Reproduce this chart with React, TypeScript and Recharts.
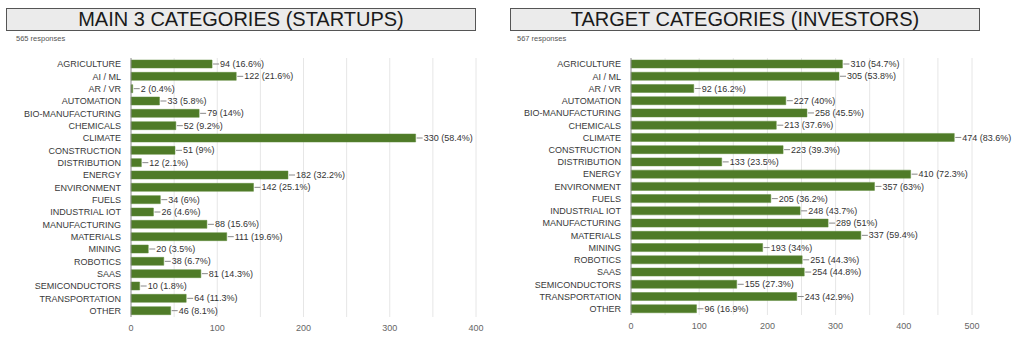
import React from "react";
import { BarChart, Bar, XAxis, YAxis, CartesianGrid, LabelList } from "recharts";

const categories = [
  "AGRICULTURE", "AI / ML", "AR / VR", "AUTOMATION", "BIO-MANUFACTURING", "CHEMICALS",
  "CLIMATE", "CONSTRUCTION", "DISTRIBUTION", "ENERGY", "ENVIRONMENT", "FUELS",
  "INDUSTRIAL IOT", "MANUFACTURING", "MATERIALS", "MINING", "ROBOTICS", "SAAS",
  "SEMICONDUCTORS", "TRANSPORTATION", "OTHER",
];

const startupCounts = [94, 122, 2, 33, 79, 52, 330, 51, 12, 182, 142, 34, 26, 88, 111, 20, 38, 81, 10, 64, 46];
const startupPct = ["16.6", "21.6", "0.4", "5.8", "14", "9.2", "58.4", "9", "2.1", "32.2", "25.1", "6", "4.6", "15.6", "19.6", "3.5", "6.7", "14.3", "1.8", "11.3", "8.1"];

const investorCounts = [310, 305, 92, 227, 258, 213, 474, 223, 133, 410, 357, 205, 248, 289, 337, 193, 251, 254, 155, 243, 96];
const investorPct = ["54.7", "53.8", "16.2", "40", "45.5", "37.6", "83.6", "39.3", "23.5", "72.3", "63", "36.2", "43.7", "51", "59.4", "34", "44.3", "44.8", "27.3", "42.9", "16.9"];

const startupTicks = [0, 100, 200, 300, 400];
const startupGrid = [50, 100, 150, 200, 250, 300, 350, 400];
const investorTicks = [0, 100, 200, 300, 400, 500];
const investorGrid = [50, 100, 150, 200, 250, 300, 350, 400, 450, 500];

const FONT = '"Liberation Sans", Arial, sans-serif';
const GREEN = "#4f7b28";

const ValueLabel = (props: any) => {
  const { x, y, width, height, value } = props;
  const ex = x + width;
  const cy = y + height / 2;
  return (
    <g>
      <line x1={ex + 1} y1={cy} x2={ex + 7} y2={cy} stroke="#888" strokeWidth={1} />
      <text x={ex + 8} y={cy} dy="0.35em" fontSize={9} fill="#333" fontFamily={FONT}>
        {value}
      </text>
    </g>
  );
};

function Panel(props: {
  left: number;
  width: number;
  axisWidth: number;
  respLeft: number;
  title: string;
  responses: string;
  counts: number[];
  pct: string[];
  ticks: number[];
  grid: number[];
  max: number;
  marginRight: number;
  marginBottom: number;
}) {
  const data = categories.map((c, i) => ({
    name: c,
    value: props.counts[i],
    label: `${props.counts[i]} (${props.pct[i]}%)`,
  }));
  return (
    <div style={{ position: "absolute", left: props.left, top: 0, width: props.width, height: 360 }}>
      <div
        style={{
          position: "absolute",
          left: 6,
          top: 8,
          width: 468,
          height: 21,
          background: "#ebebeb",
          border: "1px solid #555",
          fontFamily: FONT,
          fontSize: 20,
          lineHeight: "21px",
          textAlign: "center",
          color: "#1a1a1a",
        }}
      >
        {props.title}
      </div>
      <div
        style={{
          position: "absolute",
          left: props.respLeft,
          top: 34,
          fontFamily: FONT,
          fontSize: 7.5,
          color: "#555",
        }}
      >
        {props.responses}
      </div>
      <div style={{ position: "absolute", left: 0, top: 0 }}>
        <BarChart
          width={props.width}
          height={360}
          data={data}
          layout="vertical"
          margin={{ top: 58, right: props.marginRight, left: 0, bottom: props.marginBottom }}
          barSize={8}
        >
          <CartesianGrid horizontal={false} stroke="#e6e6e6" verticalValues={props.grid} />
          <XAxis
            type="number"
            domain={[0, props.max]}
            ticks={props.ticks}
            axisLine={false}
            tickLine={false}
            height={20}
            tick={{ fontSize: 9, fill: "#666", fontFamily: FONT }}
          />
          <XAxis
            xAxisId="top"
            orientation="top"
            type="number"
            domain={[0, props.max]}
            tick={false}
            tickLine={false}
            height={0}
            axisLine={{ stroke: "#e6e6e6" }}
          />
          <YAxis
            type="category"
            dataKey="name"
            width={props.axisWidth}
            interval={0}
            tickLine={false}
            tickMargin={4}
            axisLine={{ stroke: "#888" }}
            tick={{ fontSize: 9, fill: "#3a3a3a", fontFamily: FONT }}
          />
          <Bar dataKey="value" fill={GREEN} stroke="#5f8a3a" strokeWidth={0.5} isAnimationActive={false}>
            <LabelList dataKey="label" content={<ValueLabel />} />
          </Bar>
        </BarChart>
      </div>
    </div>
  );
}

export default function App() {
  return (
    <div style={{ position: "absolute", left: 0, top: 0, width: 1024, height: 360, background: "#fff", overflow: "hidden" }}>
      <Panel
        left={0}
        width={500}
        axisWidth={131}
        respLeft={16}
        title="MAIN 3 CATEGORIES (STARTUPS)"
        responses="565 responses"
        counts={startupCounts}
        pct={startupPct}
        ticks={startupTicks}
        grid={startupGrid}
        max={400}
        marginRight={24}
        marginBottom={23}
      />
      <Panel
        left={504}
        width={520}
        axisWidth={127}
        respLeft={13}
        title="TARGET CATEGORIES (INVESTORS)"
        responses="567 responses"
        counts={investorCounts}
        pct={investorPct}
        ticks={investorTicks}
        grid={investorGrid}
        max={500}
        marginRight={52}
        marginBottom={25}
      />
    </div>
  );
}
